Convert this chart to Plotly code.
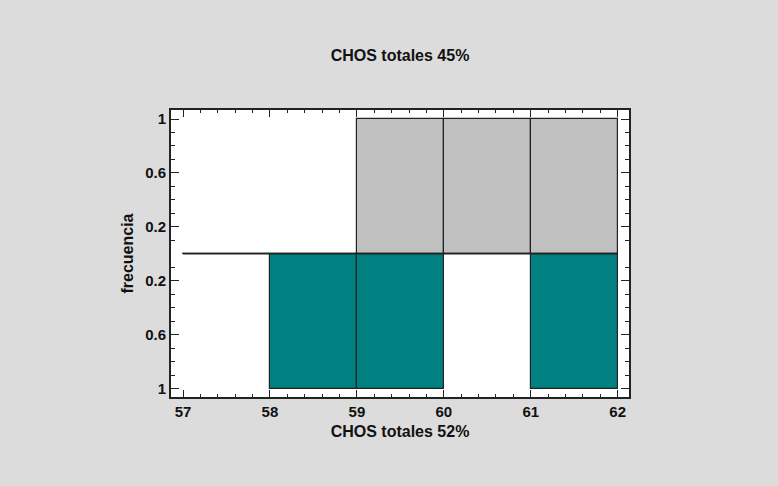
import plotly.graph_objects as go

# Bin edges and counts for the two groups (back-to-back histogram)
bin_edges = [57, 58, 59, 60, 61, 62]
upper_counts = [0, 0, 1, 1, 1]   # CHOS totales 45%
lower_counts = [0, 1, 1, 0, 1]   # CHOS totales 52%

y_tick_vals = [-1, -0.6, -0.2, 0.2, 0.6, 1]
y_tick_text = ["1", "0.6", "0.2", "0.2", "0.6", "1"]
x_tick_vals = [57, 58, 59, 60, 61, 62]

centers = [(a + b) / 2 for a, b in zip(bin_edges[:-1], bin_edges[1:])]
widths = [b - a for a, b in zip(bin_edges[:-1], bin_edges[1:])]

font_family = "Liberation Sans, Arial, sans-serif"

fig = go.Figure()

fig.add_trace(go.Bar(
    x=centers, y=upper_counts, width=widths, base=0,
    marker=dict(color="#C0C0C0", line=dict(color="#222222", width=1.2)),
    showlegend=False, hoverinfo="x+y",
))
fig.add_trace(go.Bar(
    x=centers, y=[-c for c in lower_counts], width=widths, base=0,
    marker=dict(color="#008080", line=dict(color="#222222", width=1.2)),
    showlegend=False, hoverinfo="x+y",
))
# zero line across the full bin range
fig.add_trace(go.Scatter(
    x=[bin_edges[0], bin_edges[-1]], y=[0, 0], mode="lines",
    line=dict(color="#222222", width=1.5), showlegend=False, hoverinfo="skip",
))

y_minor = [round(-1 + 0.1 * i, 2) for i in range(21)]
y_minor = [v for v in y_minor if all(abs(v - t) > 1e-9 for t in y_tick_vals) and abs(v) > 1e-9]

fig.update_layout(
    width=778, height=486,
    margin=dict(l=171, r=149, t=110, b=89),
    paper_bgcolor="#DCDCDC",
    plot_bgcolor="#FFFFFF",
    barmode="overlay",
    bargap=0,
    font=dict(family=font_family, color="#111111"),
    title=dict(
        text="CHOS totales 45%",
        x=0.5, xanchor="center", xref="paper",
        y=1 - 55 / 486, yanchor="middle", yref="container",
        font=dict(size=16, weight="bold", family=font_family, color="#111111"),
    ),
)

fig.update_xaxes(
    range=[56.862, 62.13],
    tickmode="array", tickvals=x_tick_vals, ticktext=[str(v) for v in x_tick_vals],
    ticks="inside", ticklen=7, tickwidth=1.2, tickcolor="#222222",
    minor=dict(dtick=0.2, tick0=57, ticks="inside", ticklen=3, tickwidth=1, tickcolor="#222222"),
    showline=True, linecolor="#222222", linewidth=2, mirror="allticks",
    showgrid=False, zeroline=False,
    tickfont=dict(size=15, weight="bold", family=font_family, color="#111111"),
    title=dict(text="CHOS totales 52%", standoff=7,
               font=dict(size=16, weight="bold", family=font_family, color="#111111")),
)
fig.update_yaxes(
    range=[-1.063, 1.067],
    tickmode="array", tickvals=y_tick_vals, ticktext=y_tick_text,
    ticks="inside", ticklen=8, tickwidth=1.2, tickcolor="#222222",
    minor=dict(tickvals=y_minor, ticks="inside", ticklen=4, tickwidth=1, tickcolor="#222222"),
    showline=True, linecolor="#222222", linewidth=2, mirror="allticks",
    showgrid=False, zeroline=False,
    tickfont=dict(size=15, weight="bold", family=font_family, color="#111111"),
    title=dict(text="frecuencia", standoff=8,
               font=dict(size=16, weight="bold", family=font_family, color="#111111")),
)

fig.write_html("out.html")
